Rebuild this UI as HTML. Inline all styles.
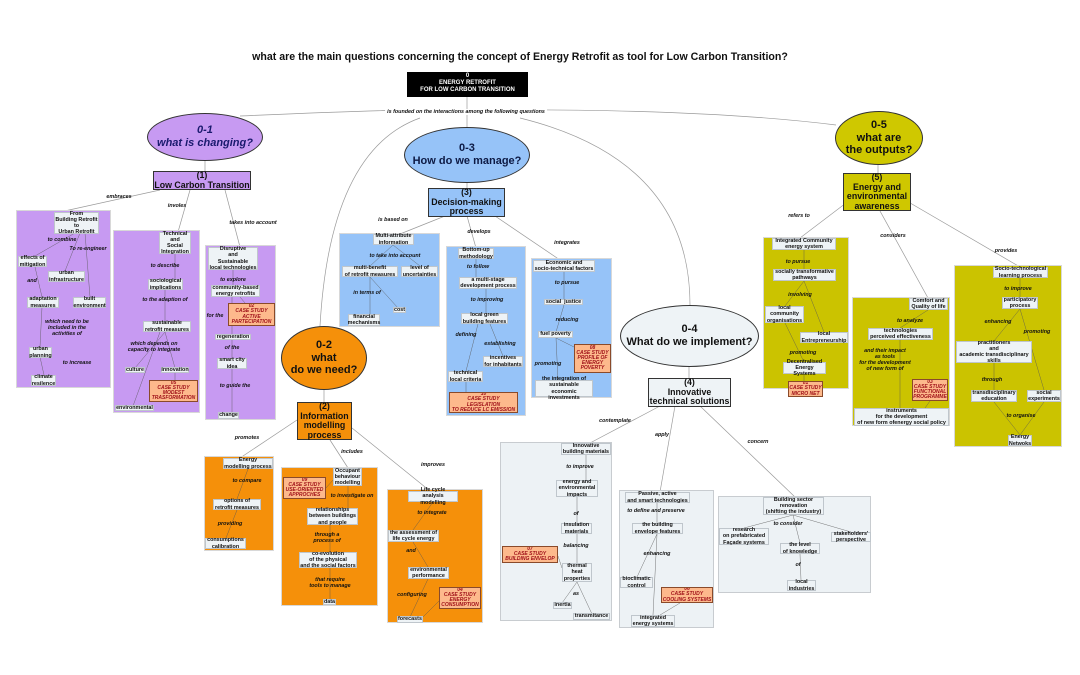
<!DOCTYPE html>
<html><head><meta charset="utf-8"><style>
*{margin:0;padding:0;box-sizing:border-box}
body{width:1080px;height:675px;background:#fff;position:relative;overflow:hidden;font-family:"Liberation Sans","DejaVu Sans",sans-serif}
svg{position:absolute;left:0;top:0}
.g{position:absolute;border:1px solid #d8d8d8}
.p{background:#c79af2}.bl{background:#96c3f8}.o{background:#cbc300}.or{background:#f5900a}.gr{background:#edf2f5;border-color:#c8ccd0}
.b{position:absolute;background:#eef3f6;border:1px solid #bfc6cc;font:bold 5.4px/1.12 "Liberation Sans",sans-serif;text-align:center;display:flex;align-items:center;justify-content:center;color:#111}
.c{position:absolute;background:#fdb98c;border:1px solid #8a4a2a;font:italic bold 5px/1.04 "Liberation Sans",sans-serif;color:#a0121a;text-align:center;display:flex;align-items:center;justify-content:center;overflow:hidden}
.l{position:absolute;font:italic bold 5.4px/1.12 "Liberation Sans",sans-serif;transform:translateX(-50%);white-space:nowrap;text-align:center;color:#111}
.m{position:absolute;border:1px solid #333;font:bold 8.8px/1.08 "Liberation Sans",sans-serif;text-align:center;display:flex;align-items:center;justify-content:center;color:#111}
.e{position:absolute;border:1px solid #333;border-radius:50%;display:flex;align-items:center;justify-content:center;text-align:center;font:bold 11px/1.15 "Liberation Sans",sans-serif;color:#111}
</style></head><body>
<svg width="1080" height="675" fill="none" stroke="#9a9a9a" stroke-width="0.7">
<path d="M467 96V127"/>
<path d="M240 116 Q 420 108 467 110 Q 700 108 836 125"/>
<path d="M420 118 Q 330 150 320 326"/>
<path d="M520 118 Q 690 160 690 305"/>
<path d="M205 161V171M324 390V402M467 183V188M689 366V378M878 165V173"/>
<path d="M160 190L60 212M190 190L178 232M225 190L240 247"/>
<path d="M445 216L400 234M467 216L476 248M495 216L560 260"/>
<path d="M850 200L800 238M880 211L928 298M905 200L1020 267"/>
<path d="M297 420L240 458M330 440L348 468M352 428L430 491"/>
<path d="M660 406L590 443M675 406L660 492M700 406L795 497"/>
</svg>

<div style="position:absolute;left:0;top:51px;width:1040px;text-align:center;font:bold 10.6px 'Liberation Sans',sans-serif;color:#111">what are the main questions concerning the concept of Energy Retrofit as tool for Low Carbon Transition?</div>
<div style="position:absolute;left:407px;top:72px;width:121px;height:25px;background:#000;color:#fff;font:bold 6px/1.2 'Liberation Sans',sans-serif;text-align:center;padding-top:1px">0<br>ENERGY RETROFIT<br>FOR LOW CARBON TRANSITION</div>
<div class="l" style="left:466px;top:109px;background:#fff;padding:0 2px">is founded on the interactions among the following questions</div>

<div class="e" style="left:147px;top:113px;width:116px;height:48px;background:#c79af2;color:#1a1a6e;font-style:italic">0-1<br>what is changing?</div>
<div class="e" style="left:404px;top:127px;width:126px;height:56px;background:#96c3f8;color:#0d1a44">0-3<br>How do we manage?</div>
<div class="e" style="left:835px;top:111px;width:88px;height:54px;background:#cfc800">0-5<br>what are<br>the outputs?</div>
<div class="e" style="left:281px;top:326px;width:86px;height:64px;background:#f5900a">0-2<br>what<br>do we need?</div>
<div class="e" style="left:620px;top:305px;width:139px;height:62px;background:#eef3f6">0-4<br>What do we implement?</div>

<div class="m" style="left:153px;top:171px;width:98px;height:19px;background:#c79af2">(1)<br>Low Carbon Transition</div>
<div class="m" style="left:428px;top:188px;width:77px;height:29px;background:#96c3f8">(3)<br>Decision-making<br>process</div>
<div class="m" style="left:843px;top:173px;width:68px;height:38px;background:#cfc700">(5)<br>Energy and<br>environmental<br>awareness</div>
<div class="m" style="left:297px;top:402px;width:55px;height:38px;background:#f5900a">(2)<br>Information<br>modelling<br>process</div>
<div class="m" style="left:648px;top:378px;width:83px;height:29px;background:#eef3f6">(4)<br>Innovative<br>technical solutions</div>

<div class="l" style="left:119px;top:194px">embraces</div>
<div class="l" style="left:177px;top:203px">involes</div>
<div class="l" style="left:253px;top:220px">takes into account</div>
<div class="l" style="left:393px;top:217px">is based on</div>
<div class="l" style="left:479px;top:229px">develops</div>
<div class="l" style="left:567px;top:240px">integrates</div>
<div class="l" style="left:799px;top:213px">refers to</div>
<div class="l" style="left:893px;top:233px">considers</div>
<div class="l" style="left:1006px;top:248px">provides</div>
<div class="l" style="left:247px;top:435px">promotes</div>
<div class="l" style="left:352px;top:449px">includes</div>
<div class="l" style="left:433px;top:462px">improves</div>
<div class="l" style="left:615px;top:418px">contemplate</div>
<div class="l" style="left:662px;top:432px">apply</div>
<div class="l" style="left:758px;top:439px">concern</div>

<div class="g p" style="left:16px;top:210px;width:95px;height:178px"></div>
<div class="g p" style="left:113px;top:230px;width:87px;height:183px"></div>
<div class="g p" style="left:205px;top:245px;width:71px;height:175px"></div>
<div class="g bl" style="left:339px;top:233px;width:101px;height:94px"></div>
<div class="g bl" style="left:446px;top:246px;width:80px;height:170px"></div>
<div class="g bl" style="left:531px;top:258px;width:81px;height:140px"></div>
<div class="g o" style="left:763px;top:237px;width:86px;height:152px"></div>
<div class="g o" style="left:852px;top:297px;width:98px;height:129px"></div>
<div class="g o" style="left:954px;top:265px;width:108px;height:182px"></div>
<div class="g or" style="left:204px;top:456px;width:70px;height:95px"></div>
<div class="g or" style="left:281px;top:467px;width:97px;height:139px"></div>
<div class="g or" style="left:387px;top:489px;width:96px;height:134px"></div>
<div class="g gr" style="left:500px;top:442px;width:112px;height:179px"></div>
<div class="g gr" style="left:619px;top:490px;width:95px;height:138px"></div>
<div class="g gr" style="left:718px;top:496px;width:153px;height:97px"></div>

<svg width="1080" height="675" fill="none" stroke="#555" stroke-width="0.5" style="opacity:.8">
<path d="M75 233L35 256M80 233L65 271M85 233L90 297M35 267L42 297M42 307L40 347M40 357L44 375"/>
<path d="M175 254V279M165 290V321M165 332L135 368M165 332L175 368M160 332L133 406M175 373V380"/>
<path d="M233 270V285M240 297L245 303M232 297L232 334M232 340V358M232 369V413"/>
<path d="M393 245L370 266M393 245L420 266M370 277V314M370 277L398 308"/>
<path d="M476 259V277M486 289V313M478 324L466 371M490 324L503 356M466 382V392"/>
<path d="M564 272V299M564 305L556 332M556 338L558 380M556 338L590 355"/>
<path d="M804 250V269M804 281L785 306M804 281L824 332M785 323L804 362M804 374V381"/>
<path d="M928 310L900 328M900 340L900 408M930 401L925 408"/>
<path d="M1020 278V297M1020 309L994 341M1020 309L1044 390M994 363L994 390M994 402L1020 435M1044 402L1020 435"/>
<path d="M248 469L237 499M237 510L226 538"/>
<path d="M348 486V508M330 525V552M330 568L330 600M333 480L326 488"/>
<path d="M433 502L413 530M413 542L428 567M428 579L410 617M440 600L423 617"/>
<path d="M586 455V480M577 497V523M577 534V563M577 582L562 603M577 582L592 614M558 556L562 568"/>
<path d="M657 503V523M657 534L637 577M657 534L653 615M680 603L660 615"/>
<path d="M793 515L744 528M793 515L800 543M793 515L851 532M800 554L801 580"/>
</svg>

<div class="b" style="left:54px;top:212px;width:45px;height:22px">From<br>Building Retrofit<br>to<br>Urban Retrofit</div>
<div class="l" style="left:62px;top:237px">to combine</div>
<div class="l" style="left:88px;top:246px">To re-engineer</div>
<div class="b" style="left:18px;top:256px;width:29px;height:11px">effects of<br>mitigation</div>
<div class="b" style="left:48px;top:271px;width:37px;height:11px">urban<br>infrastructure</div>
<div class="l" style="left:32px;top:278px">and</div>
<div class="b" style="left:27px;top:297px;width:32px;height:11px">adaptation<br>measures</div>
<div class="b" style="left:73px;top:297px;width:33px;height:11px">built<br>environment</div>
<div class="l" style="left:67px;top:319px">which need to be<br>included in the<br>activities of</div>
<div class="b" style="left:29px;top:347px;width:23px;height:11px">urban<br>planning</div>
<div class="l" style="left:77px;top:360px">to increase</div>
<div class="b" style="left:31px;top:375px;width:25px;height:11px">climate<br>resilence</div>
<div class="b" style="left:159px;top:232px;width:32px;height:22px">Technical<br>and<br>Social<br>Integration</div>
<div class="l" style="left:165px;top:263px">to describe</div>
<div class="b" style="left:148px;top:279px;width:35px;height:11px">sociological<br>implications</div>
<div class="l" style="left:165px;top:297px">to the adaption of</div>
<div class="b" style="left:143px;top:321px;width:48px;height:11px">sustainable<br>retrofit measures</div>
<div class="l" style="left:154px;top:341px">which depends on<br>capacity to integrate</div>
<div class="b" style="left:125px;top:367px;width:20px;height:6px">culture</div>
<div class="b" style="left:161px;top:367px;width:28px;height:6px">innovation</div>
<div class="c" style="left:149px;top:380px;width:49px;height:22px">05<br>CASE STUDY<br>MODEST<br>TRASFORMATION</div>
<div class="b" style="left:115px;top:405px;width:39px;height:6px">environmental</div>
<div class="b" style="left:208px;top:247px;width:50px;height:23px">Disruptive<br>and<br>Sustainable<br>local technologies</div>
<div class="l" style="left:233px;top:277px">to explore</div>
<div class="b" style="left:211px;top:285px;width:49px;height:12px">community-based<br>energy retrofits</div>
<div class="c" style="left:228px;top:303px;width:47px;height:23px">02<br>CASE STUDY<br>ACTIVE<br>PARTECIPATION</div>
<div class="l" style="left:215px;top:313px">for the</div>
<div class="b" style="left:215px;top:334px;width:36px;height:6px">regeneration</div>
<div class="l" style="left:232px;top:345px">of the</div>
<div class="b" style="left:217px;top:358px;width:30px;height:11px">smart city<br>idea</div>
<div class="l" style="left:235px;top:383px">to guide the</div>
<div class="b" style="left:218px;top:412px;width:21px;height:7px">change</div>

<div class="b" style="left:373px;top:234px;width:41px;height:11px">Multi-attribute<br>information</div>
<div class="l" style="left:395px;top:253px">to take into account</div>
<div class="b" style="left:342px;top:266px;width:56px;height:11px">multi-benefit<br>of retrofit measures</div>
<div class="b" style="left:401px;top:266px;width:37px;height:11px">level of<br>uncertainties</div>
<div class="l" style="left:367px;top:290px">in terms of</div>
<div class="b" style="left:393px;top:307px;width:13px;height:6px">cost</div>
<div class="b" style="left:348px;top:314px;width:32px;height:12px">financial<br>mechanisms</div>
<div class="b" style="left:458px;top:248px;width:36px;height:11px">Bottom-up<br>methodology</div>
<div class="l" style="left:478px;top:264px">to follow</div>
<div class="b" style="left:459px;top:277px;width:58px;height:12px">a multi-stage<br>development process</div>
<div class="l" style="left:487px;top:297px">to improving</div>
<div class="b" style="left:461px;top:313px;width:47px;height:11px">local green<br>building features</div>
<div class="l" style="left:466px;top:332px">defining</div>
<div class="l" style="left:500px;top:341px">establishing</div>
<div class="b" style="left:483px;top:356px;width:40px;height:11px">incentives<br>for inhabitants</div>
<div class="b" style="left:448px;top:371px;width:35px;height:11px">technical<br>local criteria</div>
<div class="c" style="left:449px;top:392px;width:69px;height:21px">10<br>CASE STUDY<br>LEGISLATION<br>TO REDUCE LC EMISSION</div>
<div class="b" style="left:533px;top:260px;width:62px;height:12px">Economic and<br>socio-technical factors</div>
<div class="l" style="left:567px;top:280px">to pursue</div>
<div class="b" style="left:544px;top:299px;width:39px;height:6px">social &nbsp;justice</div>
<div class="l" style="left:567px;top:317px">reducing</div>
<div class="b" style="left:538px;top:331px;width:35px;height:7px">fuel poverty</div>
<div class="c" style="left:574px;top:344px;width:37px;height:29px">08<br>CASE STUDY<br>PROFILE OF<br>ENERGY<br>POVERTY</div>
<div class="l" style="left:548px;top:361px">promoting</div>
<div class="b" style="left:535px;top:380px;width:58px;height:17px">the integration of<br>sustainable economic<br>investments</div>

<div class="b" style="left:772px;top:238px;width:64px;height:12px">Integrated Community<br>energy system</div>
<div class="l" style="left:798px;top:259px">to pursue</div>
<div class="b" style="left:773px;top:269px;width:63px;height:12px">socially transformative<br>pathways</div>
<div class="l" style="left:800px;top:292px">involving</div>
<div class="b" style="left:765px;top:306px;width:39px;height:17px">local<br>community<br>organisations</div>
<div class="b" style="left:800px;top:332px;width:48px;height:11px">local<br>Entrepreneurship</div>
<div class="l" style="left:803px;top:350px">promoting</div>
<div class="b" style="left:783px;top:362px;width:43px;height:12px">Decentralised<br>Energy Systems</div>
<div class="c" style="left:788px;top:381px;width:35px;height:16px">01<br>CASE STUDY<br>MICRO NET</div>
<div class="b" style="left:909px;top:298px;width:39px;height:12px">Comfort and<br>Quality of life</div>
<div class="l" style="left:910px;top:318px">to analyze</div>
<div class="b" style="left:868px;top:328px;width:65px;height:12px">technologies<br>perceived effectiveness</div>
<div class="l" style="left:885px;top:348px">and their impact<br>as tools<br>for the development<br>of new form of</div>
<div class="c" style="left:912px;top:379px;width:36px;height:22px">03<br>CASE STUDY<br>FUNCTIONAL<br>PROGRAMME</div>
<div class="b" style="left:854px;top:408px;width:95px;height:18px">instruments<br>for the development<br>of new form ofenergy social policy</div>
<div class="b" style="left:993px;top:267px;width:55px;height:11px">Socio-technological<br>learning process</div>
<div class="l" style="left:1018px;top:286px">to improve</div>
<div class="b" style="left:1002px;top:297px;width:36px;height:12px">participatory<br>process</div>
<div class="l" style="left:998px;top:319px">enhancing</div>
<div class="l" style="left:1037px;top:329px">promoting</div>
<div class="b" style="left:956px;top:341px;width:76px;height:22px">practitioners<br>and<br>academic transdisciplinary<br>skills</div>
<div class="l" style="left:992px;top:377px">through</div>
<div class="b" style="left:971px;top:390px;width:46px;height:12px">transdisciplinary<br>education</div>
<div class="b" style="left:1027px;top:390px;width:34px;height:12px">social<br>experiments</div>
<div class="l" style="left:1021px;top:413px">to organise</div>
<div class="b" style="left:1008px;top:435px;width:24px;height:11px">Energy<br>Netwoks</div>

<div class="b" style="left:223px;top:458px;width:50px;height:11px">Energy<br>modelling process</div>
<div class="l" style="left:247px;top:478px">to compare</div>
<div class="b" style="left:213px;top:499px;width:48px;height:11px">options of<br>retrofit measures</div>
<div class="l" style="left:230px;top:521px">providing</div>
<div class="b" style="left:205px;top:538px;width:41px;height:11px">consumptions<br>calibration</div>
<div class="b" style="left:333px;top:468px;width:29px;height:18px">Occupant<br>behaviour<br>modelling</div>
<div class="c" style="left:283px;top:477px;width:43px;height:22px">09<br>CASE STUDY<br>USE-ORIENTED<br>APPROCHES</div>
<div class="l" style="left:352px;top:493px">to investigate on</div>
<div class="b" style="left:307px;top:508px;width:51px;height:17px">relationships<br>between buildings<br>and people</div>
<div class="l" style="left:327px;top:532px">through a<br>process of</div>
<div class="b" style="left:299px;top:552px;width:58px;height:16px">co-evolution<br>of the physical<br>and the social factors</div>
<div class="l" style="left:330px;top:577px">that require<br>tools to manage</div>
<div class="b" style="left:323px;top:599px;width:13px;height:6px">data</div>
<div class="b" style="left:408px;top:491px;width:50px;height:11px">Life cycle<br>analysis modelling</div>
<div class="l" style="left:432px;top:510px">to integrate</div>
<div class="b" style="left:388px;top:530px;width:51px;height:12px">the assessment of<br>life cycle energy</div>
<div class="l" style="left:411px;top:548px">and</div>
<div class="b" style="left:408px;top:567px;width:41px;height:12px">environmental<br>performance</div>
<div class="l" style="left:412px;top:592px">configuring</div>
<div class="c" style="left:439px;top:587px;width:42px;height:22px">04<br>CASE STUDY<br>ENERGY<br>CONSUMPTION</div>
<div class="b" style="left:397px;top:616px;width:26px;height:7px">forecasts</div>

<div class="b" style="left:561px;top:443px;width:50px;height:12px">Innovative<br>building materials</div>
<div class="l" style="left:580px;top:464px">to improve</div>
<div class="b" style="left:556px;top:480px;width:42px;height:17px">energy and<br>environmental<br>impacts</div>
<div class="l" style="left:576px;top:511px">of</div>
<div class="b" style="left:561px;top:523px;width:31px;height:11px">insulation<br>materials</div>
<div class="l" style="left:576px;top:543px">balancing</div>
<div class="c" style="left:502px;top:546px;width:56px;height:17px">07<br>CASE STUDY<br>BUILDING ENVELOP</div>
<div class="b" style="left:562px;top:563px;width:30px;height:19px">thermal<br>heat<br>properties</div>
<div class="l" style="left:576px;top:591px">as</div>
<div class="b" style="left:553px;top:602px;width:19px;height:7px">inertia</div>
<div class="b" style="left:573px;top:613px;width:37px;height:7px">transmitance</div>
<div class="b" style="left:625px;top:492px;width:65px;height:11px">Passive, active<br>and smart technologies</div>
<div class="l" style="left:656px;top:508px">to define and preserve</div>
<div class="b" style="left:632px;top:523px;width:51px;height:11px">the building<br>envelope features</div>
<div class="l" style="left:657px;top:551px">enhancing</div>
<div class="b" style="left:620px;top:577px;width:33px;height:11px">bioclimatic<br>control</div>
<div class="c" style="left:661px;top:587px;width:52px;height:16px">06<br>CASE STUDY<br>COOLING SYSTEMS</div>
<div class="b" style="left:631px;top:615px;width:44px;height:12px">integrated<br>energy systems</div>
<div class="b" style="left:763px;top:497px;width:61px;height:18px">Building sector<br>renovation<br>(shifting the industry)</div>
<div class="l" style="left:788px;top:521px">to consider</div>
<div class="b" style="left:719px;top:528px;width:50px;height:17px">research<br>on prefabricated<br>Façade systems</div>
<div class="b" style="left:780px;top:543px;width:40px;height:11px">the level<br>of knowledge</div>
<div class="b" style="left:831px;top:532px;width:40px;height:10px">stakeholders'<br>perspective</div>
<div class="l" style="left:798px;top:562px">of</div>
<div class="b" style="left:787px;top:580px;width:29px;height:11px">local<br>industries</div>
</body></html>
